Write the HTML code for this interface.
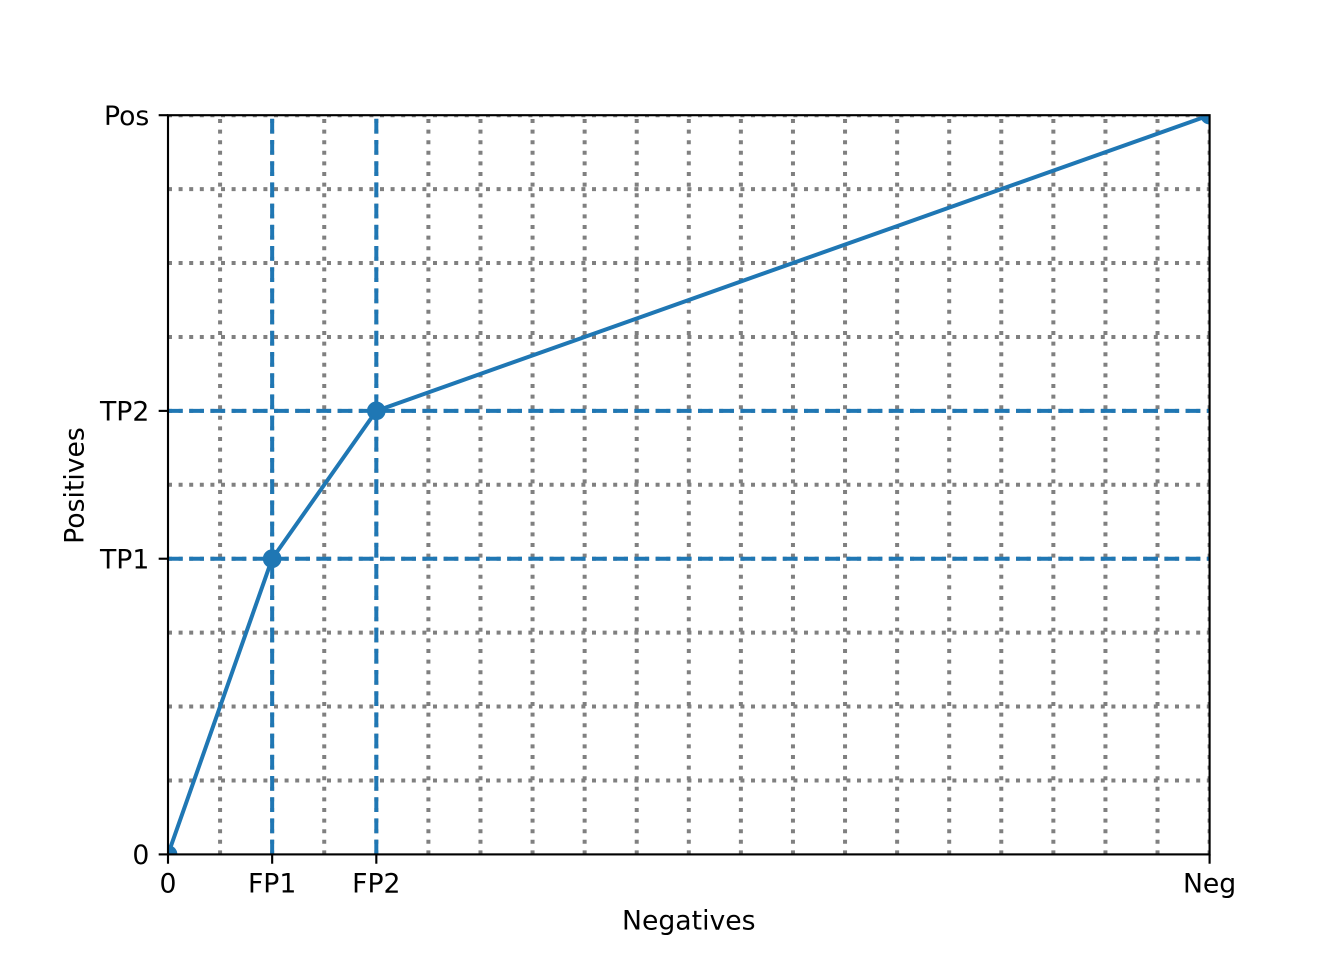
<!DOCTYPE html>
<html>
<head>
<meta charset="utf-8">
<style>
  html, body { margin: 0; padding: 0; background: #ffffff; }
  svg { display: block; }
  text { font-family: "DejaVu Sans", "Liberation Sans", sans-serif; font-size: 26.67px; fill: #000000; }
</style>
</head>
<body>
<svg width="1344" height="960" viewBox="0 0 1344 960" xmlns="http://www.w3.org/2000/svg">
  <defs>
    <clipPath id="ax">
      <rect x="168" y="115.2" width="1041.6" height="739.2"/>
    </clipPath>
  </defs>
  <rect x="0" y="0" width="1344" height="960" fill="#ffffff"/>

  <g clip-path="url(#ax)">
    <!-- vertical dotted grid lines (bottom to top) -->
    <g stroke="#808080" stroke-width="4" stroke-dasharray="4 6.6" fill="none" stroke-linecap="butt">
      <line x1="220.08" y1="854.4" x2="220.08" y2="115.2"/>
      <line x1="272.16" y1="854.4" x2="272.16" y2="115.2"/>
      <line x1="324.24" y1="854.4" x2="324.24" y2="115.2"/>
      <line x1="376.32" y1="854.4" x2="376.32" y2="115.2"/>
      <line x1="428.4" y1="854.4" x2="428.4" y2="115.2"/>
      <line x1="480.48" y1="854.4" x2="480.48" y2="115.2"/>
      <line x1="532.56" y1="854.4" x2="532.56" y2="115.2"/>
      <line x1="584.64" y1="854.4" x2="584.64" y2="115.2"/>
      <line x1="636.72" y1="854.4" x2="636.72" y2="115.2"/>
      <line x1="688.8" y1="854.4" x2="688.8" y2="115.2"/>
      <line x1="740.88" y1="854.4" x2="740.88" y2="115.2"/>
      <line x1="792.96" y1="854.4" x2="792.96" y2="115.2"/>
      <line x1="845.04" y1="854.4" x2="845.04" y2="115.2"/>
      <line x1="897.12" y1="854.4" x2="897.12" y2="115.2"/>
      <line x1="949.2" y1="854.4" x2="949.2" y2="115.2"/>
      <line x1="1001.28" y1="854.4" x2="1001.28" y2="115.2"/>
      <line x1="1053.36" y1="854.4" x2="1053.36" y2="115.2"/>
      <line x1="1105.44" y1="854.4" x2="1105.44" y2="115.2"/>
      <line x1="1157.52" y1="854.4" x2="1157.52" y2="115.2"/>
      <line x1="1209.6" y1="854.4" x2="1209.6" y2="115.2"/>
    </g>
    <!-- horizontal dotted grid lines (left to right) -->
    <g stroke="#808080" stroke-width="4" stroke-dasharray="4 6.6" fill="none" stroke-linecap="butt">
      <line x1="168" y1="780.48" x2="1209.6" y2="780.48"/>
      <line x1="168" y1="706.56" x2="1209.6" y2="706.56"/>
      <line x1="168" y1="632.64" x2="1209.6" y2="632.64"/>
      <line x1="168" y1="558.72" x2="1209.6" y2="558.72"/>
      <line x1="168" y1="484.8" x2="1209.6" y2="484.8"/>
      <line x1="168" y1="410.88" x2="1209.6" y2="410.88"/>
      <line x1="168" y1="336.96" x2="1209.6" y2="336.96"/>
      <line x1="168" y1="263.04" x2="1209.6" y2="263.04"/>
      <line x1="168" y1="189.12" x2="1209.6" y2="189.12"/>
      <line x1="168" y1="115.2" x2="1209.6" y2="115.2"/>
    </g>

    <!-- blue dashed reference lines -->
    <g stroke="#1f77b4" stroke-width="4" stroke-dasharray="14.8 6.4" fill="none" stroke-linecap="butt">
      <line x1="272.16" y1="854.4" x2="272.16" y2="115.2"/>
      <line x1="376.32" y1="854.4" x2="376.32" y2="115.2"/>
      <line x1="168" y1="558.72" x2="1209.6" y2="558.72"/>
      <line x1="168" y1="410.88" x2="1209.6" y2="410.88"/>
    </g>

    <!-- ROC curve -->
    <polyline points="168,854.4 272.16,558.72 376.32,410.88 1209.6,115.2"
              fill="none" stroke="#1f77b4" stroke-width="4" stroke-linejoin="round" stroke-linecap="square"/>
    <g fill="#1f77b4" stroke="#1f77b4" stroke-width="2.67">
      <circle cx="168" cy="854.4" r="8"/>
      <circle cx="272.16" cy="558.72" r="8"/>
      <circle cx="376.32" cy="410.88" r="8"/>
      <circle cx="1209.6" cy="115.2" r="8"/>
    </g>
  </g>

  <!-- spines -->
  <rect x="168" y="115.2" width="1041.6" height="739.2" fill="none" stroke="#000000" stroke-width="2.13" stroke-linejoin="miter"/>

  <!-- ticks -->
  <g stroke="#000000" stroke-width="2.13">
    <line x1="168" y1="854.4" x2="168" y2="863.73"/>
    <line x1="272.16" y1="854.4" x2="272.16" y2="863.73"/>
    <line x1="376.32" y1="854.4" x2="376.32" y2="863.73"/>
    <line x1="1209.6" y1="854.4" x2="1209.6" y2="863.73"/>
    <line x1="158.67" y1="854.4" x2="168" y2="854.4"/>
    <line x1="158.67" y1="558.72" x2="168" y2="558.72"/>
    <line x1="158.67" y1="410.88" x2="168" y2="410.88"/>
    <line x1="158.67" y1="115.2" x2="168" y2="115.2"/>
  </g>

  <!-- x tick labels -->
  <g text-anchor="middle">
    <text x="168" y="892.7">0</text>
    <text x="272.16" y="892.7">FP1</text>
    <text x="376.32" y="892.7">FP2</text>
    <text x="1209.6" y="892.7">Neg</text>
  </g>
  <!-- y tick labels -->
  <g text-anchor="end">
    <text x="149.3" y="864.1">0</text>
    <text x="149.3" y="568.4">TP1</text>
    <text x="149.3" y="420.6">TP2</text>
    <text x="149.3" y="124.9">Pos</text>
  </g>

  <!-- axis labels -->
  <text x="688.8" y="929.3" text-anchor="middle">Negatives</text>
  <text transform="translate(83.3,485.5) rotate(-90)" text-anchor="middle">Positives</text>
</svg>
</body>
</html>
